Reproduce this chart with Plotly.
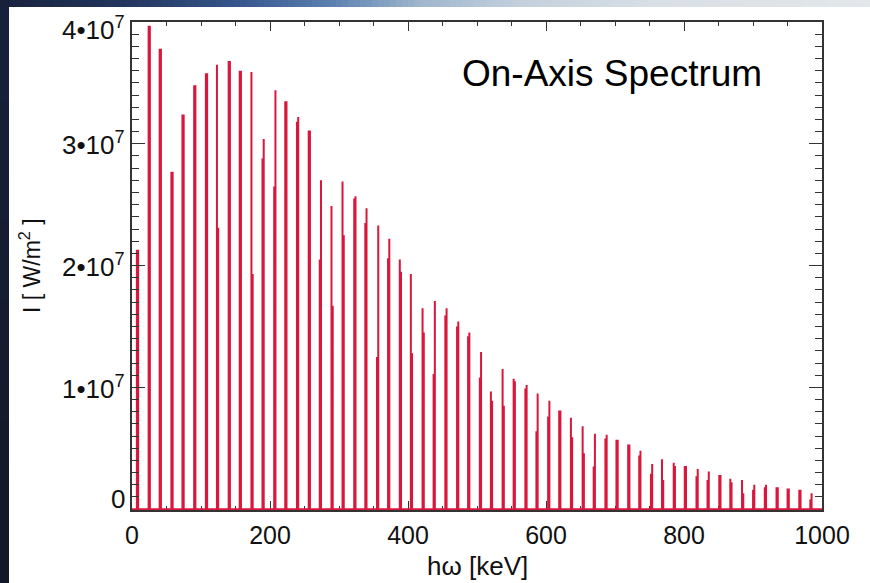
import plotly.graph_objects as go

# Odd undulator harmonics seen on axis: photon energy of each line [keV]
energy_kev = [
    8, 25, 41, 58, 74, 91, 108, 124, 141, 157,
    174, 190, 207, 223, 240, 257, 273, 290, 306, 323,
    339, 356, 372, 389, 405, 422, 438, 455, 472, 488,
    505, 521, 538, 554, 571, 587, 604, 620, 637, 654,
    670, 687, 703, 720, 736, 753, 769, 786, 802, 819,
    835, 852, 868, 885, 901, 918, 935, 951, 968, 984,
]

# Each line is resolved as two neighbouring samples: low-energy and high-energy side [W/m^2]
left_side = [
    2.13e7, 3.97e7, 3.78e7, 2.77e7, 3.24e7, 3.48e7, 3.58e7, 3.65e7, 3.68e7, 3.60e7,
    3.59e7, 2.88e7, 2.65e7, 3.35e7, 3.18e7, 3.11e7, 2.05e7, 2.49e7, 2.69e7, 2.55e7,
    2.35e7, 1.25e7, 2.06e7, 2.05e7, 1.93e7, 1.65e7, 1.11e7, 1.59e7, 1.50e7, 1.42e7,
    1.08e7, 0.965e7, 1.15e7, 1.07e7, 0.99e7, 0.64e7, 0.76e7, 0.81e7, 0.75e7, 0.68e7,
    0.35e7, 0.58e7, 0.57e7, 0.53e7, 0.44e7, 0.29e7, 0.41e7, 0.38e7, 0.355e7, 0.27e7,
    0.24e7, 0.28e7, 0.25e7, 0.24e7, 0.16e7, 0.18e7, 0.18e7, 0.17e7, 0.16e7, 0.08e7,
]
right_side = [
    2.13e7, 3.97e7, 3.78e7, 2.77e7, 3.24e7, 3.48e7, 3.58e7, 2.31e7, 3.68e7, 3.60e7,
    1.93e7, 3.04e7, 3.44e7, 3.35e7, 3.22e7, 3.11e7, 2.70e7, 1.67e7, 2.25e7, 2.57e7,
    2.47e7, 2.33e7, 2.22e7, 1.95e7, 1.28e7, 1.45e7, 1.71e7, 1.65e7, 1.54e7, 1.45e7,
    1.29e7, 0.89e7, 0.85e7, 1.05e7, 1.02e7, 0.95e7, 0.89e7, 0.81e7, 0.59e7, 0.46e7,
    0.62e7, 0.61e7, 0.57e7, 0.53e7, 0.48e7, 0.37e7, 0.24e7, 0.355e7, 0.355e7, 0.33e7,
    0.31e7, 0.28e7, 0.22e7, 0.13e7, 0.20e7, 0.20e7, 0.18e7, 0.17e7, 0.16e7, 0.13e7,
]

x_ticks = [0, 200, 400, 600, 800, 1000]
y_ticks = [0, 1e7, 2e7, 3e7, 4e7]
y_tick_text = ["0", "1•10<sup>7</sup>", "2•10<sup>7</sup>", "3•10<sup>7</sup>", "4•10<sup>7</sup>"]

# Continuous spectrum trace: zero baseline with a narrow double stem at every harmonic
half_width = 0.9
xs, ys = [0.0], [0.0]
for e, hl, hr in zip(energy_kev, left_side, right_side):
    xl, xr = e - half_width, e + half_width
    xs += [xl, xl, xl, xr, xr, xr]
    ys += [0.0, hl, 0.0, 0.0, hr, 0.0]
xs.append(1000.0)
ys.append(0.0)

RED = "#d9173c"
FONT = "Liberation Sans, Arial, Helvetica, sans-serif"

fig = go.Figure()
fig.add_trace(go.Scatter(x=xs, y=ys, mode="lines",
                         line=dict(color=RED, width=2.0), hoverinfo="skip",
                         showlegend=False))

# Plot-area geometry in pixels
W, H = 870, 583
L, R, T, B = 132, 48, 22, 73
plot_bottom = H - B

shapes = []


def px_rect(x0, x1, y0, y1, color):
    """Rectangle in page pixels (origin top-left)."""
    return dict(type="rect", layer="below", line=dict(width=0), fillcolor=color,
                xref="paper", xsizemode="pixel", xanchor=0, x0=x0 - L, x1=x1 - L,
                yref="paper", ysizemode="pixel", yanchor=0,
                y0=plot_bottom - y1, y1=plot_bottom - y0)


def lerp_color(stops, pos):
    for (p0, c0), (p1, c1) in zip(stops, stops[1:]):
        if p0 <= pos <= p1:
            t = (pos - p0) / (p1 - p0) if p1 > p0 else 0
            a = [int(c0[i:i + 2], 16) for i in (1, 3, 5)]
            b = [int(c1[i:i + 2], 16) for i in (1, 3, 5)]
            return "#" + "".join(f"{round(a[k] + (b[k] - a[k]) * t):02x}" for k in range(3))
    return stops[-1][1]


# Slide backdrop: dark blue band on the left, blue-to-grey band along the top
top_stops = [(0, "#18223d"), (120, "#22345c"), (240, "#36568c"), (330, "#5b80b0"),
             (420, "#9fb6cd"), (520, "#c3d0dc"), (650, "#d8dfe5"), (870, "#e3e7ea")]
step = 6
for x0 in range(0, W, step):
    shapes.append(px_rect(x0, x0 + step + 1, 0, 7, lerp_color(top_stops, x0 + step / 2)))
left_stops = [(0, "#18213b"), (583, "#121826")]
for y0 in range(0, H, 20):
    shapes.append(px_rect(0, 9, y0, y0 + 21, lerp_color(left_stops, y0 + 10)))

annotations = []
# y tick labels (end labels nudged inward as in the original plotting style)
for v, txt in zip(y_ticks, y_tick_text):
    shift = 0
    if v == y_ticks[0]:
        shift = 10
    elif v == y_ticks[-1]:
        shift = -6
    annotations.append(dict(x=0, xref="paper", y=v, yref="y", text=txt, showarrow=False,
                            xanchor="right", yanchor="middle", xshift=-5, yshift=shift,
                            font=dict(family=FONT, size=26, color="#111111")))

annotations += [
    dict(x=0.5, xref="paper", y=(plot_bottom - 566) / (H - T - B), yref="paper",
         text="hω [keV]", showarrow=False, xanchor="center", yanchor="middle",
         font=dict(family=FONT, size=26, color="#111111")),
    dict(x=(30 - L) / (W - L - R), xref="paper", y=0.5, yref="paper",
         text="I [ W/m<sup>2</sup> ]", textangle=-90, showarrow=False,
         xanchor="center", yanchor="middle",
         font=dict(family=FONT, size=23, color="#111111")),
    dict(x=(612 - L) / (W - L - R), xref="paper", y=(plot_bottom - 73) / (H - T - B),
         yref="paper", text="On-Axis Spectrum", showarrow=False,
         xanchor="center", yanchor="middle",
         font=dict(family=FONT, size=37, color="#000000")),
]

fig.update_layout(
    width=W, height=H,
    margin=dict(l=L, r=R, t=T, b=B, pad=0),
    paper_bgcolor="white", plot_bgcolor="white",
    shapes=shapes, annotations=annotations,
    showlegend=False,
    xaxis=dict(range=[0, 1000], tickvals=x_ticks, ticktext=[str(v) for v in x_ticks],
               ticks="inside", ticklen=9, tickwidth=1.3, tickcolor="#333333",
               minor=dict(dtick=50, ticks="inside", ticklen=4, tickwidth=1.2,
                          tickcolor="#333333", showgrid=False),
               showline=True, linecolor="#333333", linewidth=1.5, mirror="ticks",
               showgrid=False, zeroline=False, layer="below traces",
               tickfont=dict(family=FONT, size=25, color="#111111"),
               ticklabelstandoff=2),
    yaxis=dict(range=[-0.7e5, 4e7], tickvals=y_ticks, showticklabels=False,
               ticks="inside", ticklen=13, tickwidth=1.3, tickcolor="#333333",
               minor=dict(dtick=1e6, ticks="inside", ticklen=7, tickwidth=1.2,
                          tickcolor="#333333", showgrid=False),
               showline=True, linecolor="#333333", linewidth=1.5, mirror="ticks",
               showgrid=False, zeroline=False),
)

fig.write_html("out.html")
